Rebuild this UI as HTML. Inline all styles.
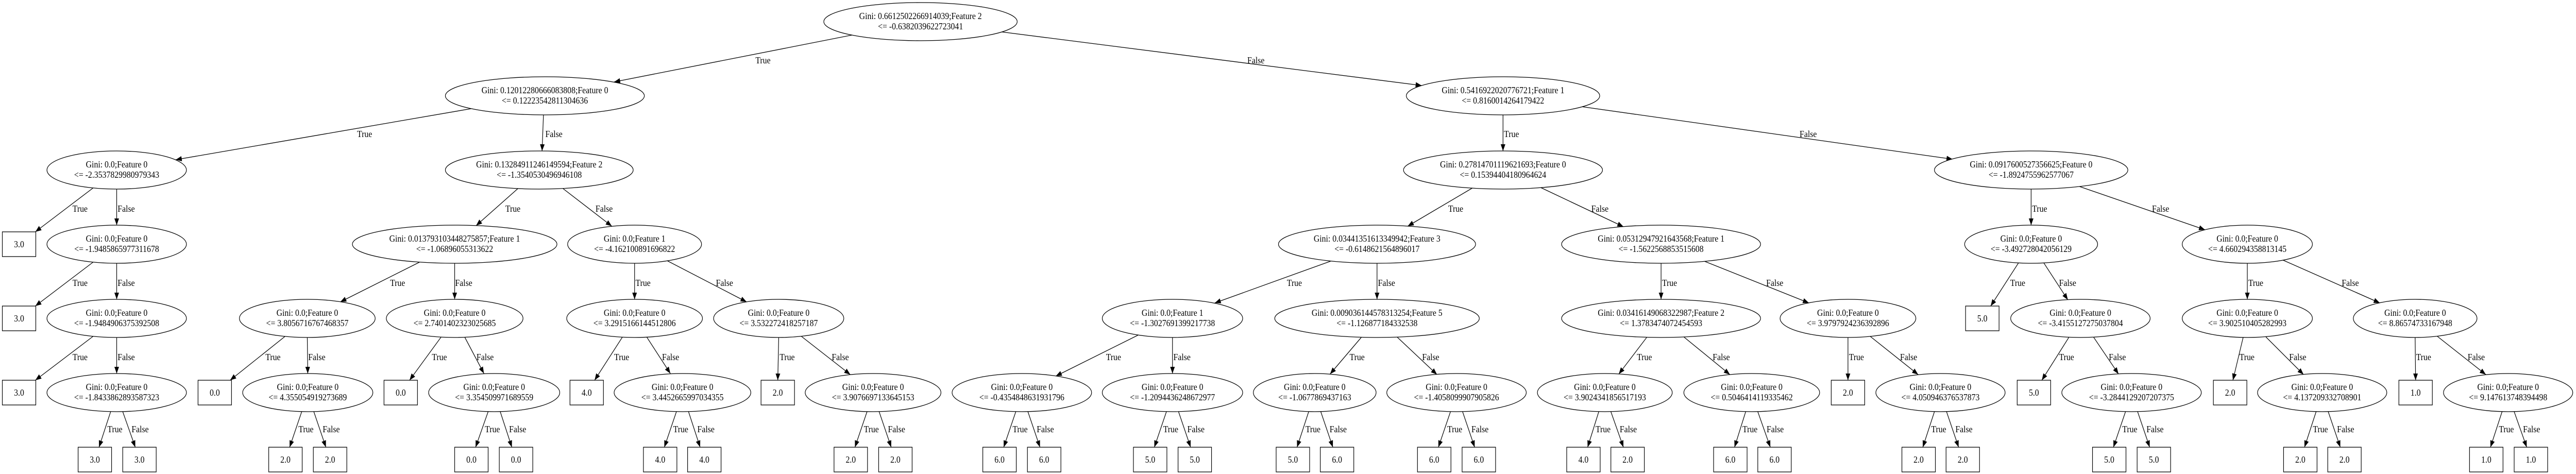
<!DOCTYPE html>
<html><head><meta charset="utf-8"><style>
html,body{margin:0;padding:0;background:#fff;width:5541px;height:920px;overflow:hidden;}
svg{display:block;position:absolute;left:0;top:0;width:100vw;height:100vh;}
text{font-family:"Liberation Serif","Times New Roman",serif;font-size:17.5px;fill:#000;}
.c{text-anchor:middle;}
</style></head><body>
<svg viewBox="0 0 5541 920" preserveAspectRatio="none" xmlns="http://www.w3.org/2000/svg">
<defs><marker id="a" viewBox="0 0 13 10" refX="13" refY="5" markerWidth="13" markerHeight="10" markerUnits="userSpaceOnUse" orient="auto"><path d="M0,0 L13,5 L0,10 z" fill="#000"/></marker></defs>
<rect width="5541" height="920" fill="#fff"/>
<g stroke="#000" stroke-width="1.3" fill="none" marker-end="url(#a)">
<line x1="1833" y1="68" x2="1321" y2="159"/>
<line x1="2155" y1="62" x2="3058" y2="166"/>
<line x1="1013" y1="211" x2="378" y2="310"/>
<line x1="1169" y1="223" x2="1166" y2="293"/>
<line x1="3233" y1="223" x2="3233" y2="293"/>
<line x1="3402" y1="207" x2="4200" y2="309"/>
<line x1="200" y1="365" x2="76" y2="450"/>
<line x1="251" y1="367" x2="251" y2="437"/>
<line x1="200" y1="509" x2="76" y2="594"/>
<line x1="251" y1="511" x2="251" y2="581"/>
<line x1="200" y1="653" x2="76" y2="738"/>
<line x1="251" y1="655" x2="251" y2="725"/>
<line x1="1114" y1="366" x2="1024" y2="438"/>
<line x1="1211" y1="366" x2="1316" y2="439"/>
<line x1="902" y1="509" x2="732" y2="586"/>
<line x1="978" y1="511" x2="978" y2="581"/>
<line x1="1365" y1="511" x2="1365" y2="581"/>
<line x1="1435" y1="506" x2="1606" y2="586"/>
<line x1="613" y1="653" x2="495" y2="738"/>
<line x1="661" y1="655" x2="662" y2="725"/>
<line x1="949" y1="654" x2="881" y2="738"/>
<line x1="1000" y1="655" x2="1041" y2="725"/>
<line x1="1339" y1="654" x2="1279" y2="738"/>
<line x1="1391" y1="654" x2="1442" y2="725"/>
<line x1="1675" y1="655" x2="1673" y2="738"/>
<line x1="1724" y1="653" x2="1829" y2="727"/>
<line x1="3167" y1="365" x2="3028" y2="439"/>
<line x1="3314" y1="364" x2="3492" y2="440"/>
<line x1="4369" y1="367" x2="4369" y2="437"/>
<line x1="4473" y1="362" x2="4743" y2="446"/>
<line x1="2862" y1="507" x2="2613" y2="588"/>
<line x1="2962" y1="511" x2="2962" y2="581"/>
<line x1="3573" y1="511" x2="3573" y2="581"/>
<line x1="3666" y1="507" x2="3891" y2="588"/>
<line x1="4342" y1="510" x2="4282" y2="594"/>
<line x1="4396" y1="510" x2="4448" y2="582"/>
<line x1="4834" y1="511" x2="4834" y2="581"/>
<line x1="4911" y1="505" x2="5119" y2="588"/>
<line x1="2449" y1="650" x2="2271" y2="730"/>
<line x1="2522" y1="655" x2="2522" y2="725"/>
<line x1="2928" y1="655" x2="2861" y2="726"/>
<line x1="3005" y1="654" x2="3091" y2="727"/>
<line x1="3542" y1="655" x2="3482" y2="726"/>
<line x1="3622" y1="654" x2="3721" y2="727"/>
<line x1="3975" y1="655" x2="3975" y2="738"/>
<line x1="4023" y1="653" x2="4126" y2="727"/>
<line x1="4450" y1="655" x2="4392" y2="738"/>
<line x1="4503" y1="654" x2="4557" y2="726"/>
<line x1="4825" y1="655" x2="4803" y2="738"/>
<line x1="4874" y1="654" x2="4955" y2="727"/>
<line x1="5195" y1="655" x2="5196" y2="738"/>
<line x1="5243" y1="653" x2="5347" y2="727"/>
<line x1="238" y1="799" x2="213" y2="868"/><line x1="264" y1="799" x2="291" y2="868"/>
<line x1="649" y1="799" x2="623" y2="868"/><line x1="675" y1="799" x2="701" y2="868"/>
<line x1="1050" y1="799" x2="1023" y2="868"/><line x1="1076" y1="799" x2="1101" y2="868"/>
<line x1="1455" y1="799" x2="1429" y2="868"/><line x1="1481" y1="799" x2="1506" y2="868"/>
<line x1="1865" y1="799" x2="1839" y2="868"/><line x1="1891" y1="799" x2="1917" y2="868"/>
<line x1="2185" y1="799" x2="2159" y2="868"/><line x1="2211" y1="799" x2="2237" y2="868"/>
<line x1="2509" y1="799" x2="2483" y2="868"/><line x1="2535" y1="799" x2="2561" y2="868"/>
<line x1="2815" y1="799" x2="2790" y2="868"/><line x1="2841" y1="799" x2="2867" y2="868"/>
<line x1="3120" y1="799" x2="3094" y2="868"/><line x1="3146" y1="799" x2="3172" y2="868"/>
<line x1="3439" y1="799" x2="3415" y2="868"/><line x1="3465" y1="799" x2="3492" y2="868"/>
<line x1="3755" y1="799" x2="3731" y2="868"/><line x1="3781" y1="799" x2="3808" y2="868"/>
<line x1="4161" y1="799" x2="4136" y2="868"/><line x1="4187" y1="799" x2="4213" y2="868"/>
<line x1="4572" y1="799" x2="4546" y2="868"/><line x1="4598" y1="799" x2="4624" y2="868"/>
<line x1="4982" y1="799" x2="4957" y2="868"/><line x1="5008" y1="799" x2="5034" y2="868"/>
<line x1="5382" y1="799" x2="5357" y2="868"/><line x1="5408" y1="799" x2="5435" y2="868"/>
</g>
<g>
<text x="1625" y="123">True</text><text x="2683" y="123">False</text>
<text x="768" y="266">True</text><text x="1173" y="266">False</text>
<text x="3235" y="266">True</text><text x="3871" y="266">False</text>
<text x="156" y="411">True</text><text x="253" y="411">False</text>
<text x="1087" y="411">True</text><text x="1281" y="411">False</text>
<text x="3115" y="411">True</text><text x="3423" y="411">False</text>
<text x="4371" y="411">True</text><text x="4629" y="411">False</text>
<text x="156" y="555">True</text><text x="253" y="555">False</text>
<text x="839" y="555">True</text><text x="979" y="555">False</text>
<text x="1367" y="555">True</text><text x="1540" y="555">False</text>
<text x="2768" y="555">True</text><text x="2964" y="555">False</text>
<text x="3575" y="555">True</text><text x="3799" y="555">False</text>
<text x="4324" y="555">True</text><text x="4429" y="555">False</text>
<text x="4836" y="555">True</text><text x="5037" y="555">False</text>
<text x="156" y="699">True</text><text x="253" y="699">False</text>
<text x="571" y="699">True</text><text x="663" y="699">False</text>
<text x="929" y="699">True</text><text x="1025" y="699">False</text>
<text x="1321" y="699">True</text><text x="1424" y="699">False</text>
<text x="1677" y="699">True</text><text x="1789" y="699">False</text>
<text x="2379" y="699">True</text><text x="2524" y="699">False</text>
<text x="2903" y="699">True</text><text x="3059" y="699">False</text>
<text x="3521" y="699">True</text><text x="3684" y="699">False</text>
<text x="3977" y="699">True</text><text x="4087" y="699">False</text>
<text x="4429" y="699">True</text><text x="4536" y="699">False</text>
<text x="4817" y="699">True</text><text x="4924" y="699">False</text>
<text x="5197" y="699">True</text><text x="5308" y="699">False</text>
<text x="231" y="839">True</text><text x="283" y="839">False</text>
<text x="642" y="839">True</text><text x="694" y="839">False</text>
<text x="1043" y="839">True</text><text x="1095" y="839">False</text>
<text x="1448" y="839">True</text><text x="1500" y="839">False</text>
<text x="1858" y="839">True</text><text x="1910" y="839">False</text>
<text x="2178" y="839">True</text><text x="2230" y="839">False</text>
<text x="2502" y="839">True</text><text x="2554" y="839">False</text>
<text x="2808" y="839">True</text><text x="2860" y="839">False</text>
<text x="3113" y="839">True</text><text x="3165" y="839">False</text>
<text x="3432" y="839">True</text><text x="3484" y="839">False</text>
<text x="3748" y="839">True</text><text x="3800" y="839">False</text>
<text x="4154" y="839">True</text><text x="4206" y="839">False</text>
<text x="4565" y="839">True</text><text x="4617" y="839">False</text>
<text x="4975" y="839">True</text><text x="5027" y="839">False</text>
<text x="5375" y="839">True</text><text x="5427" y="839">False</text>
</g>
<g stroke="#000" stroke-width="1.3" fill="#fff">
<ellipse cx="1980" cy="42" rx="208" ry="37"/>
<ellipse cx="1172" cy="186" rx="214" ry="37"/>
<ellipse cx="3233" cy="186" rx="208" ry="37"/>
<ellipse cx="251" cy="330" rx="150" ry="37"/>
<ellipse cx="1160" cy="330" rx="202" ry="37"/>
<ellipse cx="3233" cy="330" rx="214" ry="37"/>
<ellipse cx="4369" cy="330" rx="208" ry="37"/>
<ellipse cx="251" cy="474" rx="150" ry="37"/>
<ellipse cx="978" cy="474" rx="220" ry="37"/>
<ellipse cx="1365" cy="474" rx="144" ry="37"/>
<ellipse cx="2962" cy="474" rx="212" ry="37"/>
<ellipse cx="3573" cy="474" rx="214" ry="37"/>
<ellipse cx="4369" cy="474" rx="143" ry="37"/>
<ellipse cx="4834" cy="474" rx="140" ry="37"/>
<ellipse cx="251" cy="618" rx="150" ry="37"/>
<ellipse cx="661" cy="618" rx="146" ry="37"/>
<ellipse cx="978" cy="618" rx="147" ry="37"/>
<ellipse cx="1365" cy="618" rx="146" ry="37"/>
<ellipse cx="1675" cy="618" rx="140" ry="37"/>
<ellipse cx="2522" cy="618" rx="151" ry="37"/>
<ellipse cx="2962" cy="618" rx="220" ry="37"/>
<ellipse cx="3573" cy="618" rx="214" ry="37"/>
<ellipse cx="3975" cy="618" rx="146" ry="37"/>
<ellipse cx="4475" cy="618" rx="150" ry="37"/>
<ellipse cx="4834" cy="618" rx="140" ry="37"/>
<ellipse cx="5195" cy="618" rx="133" ry="37"/>
<ellipse cx="251" cy="762" rx="150" ry="37"/>
<ellipse cx="662" cy="762" rx="140" ry="37"/>
<ellipse cx="1063" cy="762" rx="141" ry="37"/>
<ellipse cx="1468" cy="762" rx="147" ry="37"/>
<ellipse cx="1878" cy="762" rx="146" ry="37"/>
<ellipse cx="2198" cy="762" rx="150" ry="37"/>
<ellipse cx="2522" cy="762" rx="151" ry="37"/>
<ellipse cx="2828" cy="762" rx="132" ry="37"/>
<ellipse cx="3133" cy="762" rx="150" ry="37"/>
<ellipse cx="3452" cy="762" rx="145" ry="37"/>
<ellipse cx="3768" cy="762" rx="146" ry="37"/>
<ellipse cx="4174" cy="762" rx="139" ry="37"/>
<ellipse cx="4585" cy="762" rx="150" ry="37"/>
<ellipse cx="4995" cy="762" rx="139" ry="37"/>
<ellipse cx="5395" cy="762" rx="139" ry="37"/>
</g>
<g stroke="#000" stroke-width="1.3" fill="#fff">
<rect x="5" y="450" width="72" height="48"/>
<rect x="5" y="594" width="72" height="48"/>
<rect x="4228" y="594" width="72" height="48"/>
<rect x="5" y="738" width="72" height="48"/>
<rect x="426" y="738" width="72" height="48"/>
<rect x="826" y="738" width="72" height="48"/>
<rect x="1226" y="738" width="72" height="48"/>
<rect x="1637" y="738" width="72" height="48"/>
<rect x="3939" y="738" width="72" height="48"/>
<rect x="4339" y="738" width="72" height="48"/>
<rect x="4761" y="738" width="72" height="48"/>
<rect x="5160" y="738" width="72" height="48"/>
<rect x="168" y="868" width="72" height="48"/><rect x="264" y="868" width="72" height="48"/>
<rect x="578" y="868" width="72" height="48"/><rect x="674" y="868" width="72" height="48"/>
<rect x="978" y="868" width="72" height="48"/><rect x="1074" y="868" width="72" height="48"/>
<rect x="1384" y="868" width="72" height="48"/><rect x="1479" y="868" width="72" height="48"/>
<rect x="1794" y="868" width="72" height="48"/><rect x="1890" y="868" width="72" height="48"/>
<rect x="2114" y="868" width="72" height="48"/><rect x="2210" y="868" width="72" height="48"/>
<rect x="2438" y="868" width="72" height="48"/><rect x="2534" y="868" width="72" height="48"/>
<rect x="2745" y="868" width="72" height="48"/><rect x="2840" y="868" width="72" height="48"/>
<rect x="3049" y="868" width="72" height="48"/><rect x="3145" y="868" width="72" height="48"/>
<rect x="3370" y="868" width="72" height="48"/><rect x="3465" y="868" width="72" height="48"/>
<rect x="3686" y="868" width="72" height="48"/><rect x="3781" y="868" width="72" height="48"/>
<rect x="4091" y="868" width="72" height="48"/><rect x="4186" y="868" width="72" height="48"/>
<rect x="4501" y="868" width="72" height="48"/><rect x="4597" y="868" width="72" height="48"/>
<rect x="4912" y="868" width="72" height="48"/><rect x="5007" y="868" width="72" height="48"/>
<rect x="5312" y="868" width="72" height="48"/><rect x="5408" y="868" width="72" height="48"/>
</g>
<g>
<text class="c" x="41" y="480">3.0</text>
<text class="c" x="41" y="624">3.0</text>
<text class="c" x="4264" y="624">5.0</text>
<text class="c" x="41" y="768">3.0</text>
<text class="c" x="462" y="768">0.0</text>
<text class="c" x="862" y="768">0.0</text>
<text class="c" x="1262" y="768">4.0</text>
<text class="c" x="1673" y="768">2.0</text>
<text class="c" x="3975" y="768">2.0</text>
<text class="c" x="4375" y="768">5.0</text>
<text class="c" x="4797" y="768">2.0</text>
<text class="c" x="5196" y="768">1.0</text>
<text class="c" x="204" y="898">3.0</text><text class="c" x="300" y="898">3.0</text>
<text class="c" x="614" y="898">2.0</text><text class="c" x="710" y="898">2.0</text>
<text class="c" x="1014" y="898">0.0</text><text class="c" x="1110" y="898">0.0</text>
<text class="c" x="1420" y="898">4.0</text><text class="c" x="1515" y="898">4.0</text>
<text class="c" x="1830" y="898">2.0</text><text class="c" x="1926" y="898">2.0</text>
<text class="c" x="2150" y="898">6.0</text><text class="c" x="2246" y="898">6.0</text>
<text class="c" x="2474" y="898">5.0</text><text class="c" x="2570" y="898">5.0</text>
<text class="c" x="2781" y="898">5.0</text><text class="c" x="2876" y="898">6.0</text>
<text class="c" x="3085" y="898">6.0</text><text class="c" x="3181" y="898">6.0</text>
<text class="c" x="3406" y="898">4.0</text><text class="c" x="3501" y="898">2.0</text>
<text class="c" x="3722" y="898">6.0</text><text class="c" x="3817" y="898">6.0</text>
<text class="c" x="4127" y="898">2.0</text><text class="c" x="4222" y="898">2.0</text>
<text class="c" x="4537" y="898">5.0</text><text class="c" x="4633" y="898">5.0</text>
<text class="c" x="4948" y="898">2.0</text><text class="c" x="5043" y="898">2.0</text>
<text class="c" x="5348" y="898">1.0</text><text class="c" x="5444" y="898">1.0</text>
</g>
<g>
<text class="c" x="1980" y="37">Gini: 0.6612502266914039;Feature 2</text><text class="c" x="1980" y="57">&lt;= -0.6382039622723041</text>
<text class="c" x="1172" y="181">Gini: 0.12012280666083808;Feature 0</text><text class="c" x="1172" y="201">&lt;= 0.12223542811304636</text>
<text class="c" x="3233" y="181">Gini: 0.5416922020776721;Feature 1</text><text class="c" x="3233" y="201">&lt;= 0.8160014264179422</text>
<text class="c" x="251" y="325">Gini: 0.0;Feature 0</text><text class="c" x="251" y="345">&lt;= -2.3537829980979343</text>
<text class="c" x="1160" y="325">Gini: 0.13284911246149594;Feature 2</text><text class="c" x="1160" y="345">&lt;= -1.3540530496946108</text>
<text class="c" x="3233" y="325">Gini: 0.27814701119621693;Feature 0</text><text class="c" x="3233" y="345">&lt;= 0.15394404180964624</text>
<text class="c" x="4369" y="325">Gini: 0.0917600527356625;Feature 0</text><text class="c" x="4369" y="345">&lt;= -1.8924755962577067</text>
<text class="c" x="251" y="469">Gini: 0.0;Feature 0</text><text class="c" x="251" y="489">&lt;= -1.9485865977311678</text>
<text class="c" x="978" y="469">Gini: 0.013793103448275857;Feature 1</text><text class="c" x="978" y="489">&lt;= -1.06896055313622</text>
<text class="c" x="1365" y="469">Gini: 0.0;Feature 1</text><text class="c" x="1365" y="489">&lt;= -4.162100891696822</text>
<text class="c" x="2962" y="469">Gini: 0.03441351613349942;Feature 3</text><text class="c" x="2962" y="489">&lt;= -0.6148621564896017</text>
<text class="c" x="3573" y="469">Gini: 0.05312947921643568;Feature 1</text><text class="c" x="3573" y="489">&lt;= -1.5622568853515608</text>
<text class="c" x="4369" y="469">Gini: 0.0;Feature 0</text><text class="c" x="4369" y="489">&lt;= -3.492728042056129</text>
<text class="c" x="4834" y="469">Gini: 0.0;Feature 0</text><text class="c" x="4834" y="489">&lt;= 4.660294358813145</text>
<text class="c" x="251" y="613">Gini: 0.0;Feature 0</text><text class="c" x="251" y="633">&lt;= -1.9484906375392508</text>
<text class="c" x="661" y="613">Gini: 0.0;Feature 0</text><text class="c" x="661" y="633">&lt;= 3.8056716767468357</text>
<text class="c" x="978" y="613">Gini: 0.0;Feature 0</text><text class="c" x="978" y="633">&lt;= 2.7401402323025685</text>
<text class="c" x="1365" y="613">Gini: 0.0;Feature 0</text><text class="c" x="1365" y="633">&lt;= 3.2915166144512806</text>
<text class="c" x="1675" y="613">Gini: 0.0;Feature 0</text><text class="c" x="1675" y="633">&lt;= 3.532272418257187</text>
<text class="c" x="2522" y="613">Gini: 0.0;Feature 1</text><text class="c" x="2522" y="633">&lt;= -1.3027691399217738</text>
<text class="c" x="2962" y="613">Gini: 0.009036144578313254;Feature 5</text><text class="c" x="2962" y="633">&lt;= -1.126877184332538</text>
<text class="c" x="3573" y="613">Gini: 0.03416149068322987;Feature 2</text><text class="c" x="3573" y="633">&lt;= 1.3783474072454593</text>
<text class="c" x="3975" y="613">Gini: 0.0;Feature 0</text><text class="c" x="3975" y="633">&lt;= 3.9797924236392896</text>
<text class="c" x="4475" y="613">Gini: 0.0;Feature 0</text><text class="c" x="4475" y="633">&lt;= -3.4155127275037804</text>
<text class="c" x="4834" y="613">Gini: 0.0;Feature 0</text><text class="c" x="4834" y="633">&lt;= 3.902510405282993</text>
<text class="c" x="5195" y="613">Gini: 0.0;Feature 0</text><text class="c" x="5195" y="633">&lt;= 8.86574733167948</text>
<text class="c" x="251" y="757">Gini: 0.0;Feature 0</text><text class="c" x="251" y="777">&lt;= -1.8433862893587323</text>
<text class="c" x="662" y="757">Gini: 0.0;Feature 0</text><text class="c" x="662" y="777">&lt;= 4.355054919273689</text>
<text class="c" x="1063" y="757">Gini: 0.0;Feature 0</text><text class="c" x="1063" y="777">&lt;= 3.354509971689559</text>
<text class="c" x="1468" y="757">Gini: 0.0;Feature 0</text><text class="c" x="1468" y="777">&lt;= 3.4452665997034355</text>
<text class="c" x="1878" y="757">Gini: 0.0;Feature 0</text><text class="c" x="1878" y="777">&lt;= 3.9076697133645153</text>
<text class="c" x="2198" y="757">Gini: 0.0;Feature 0</text><text class="c" x="2198" y="777">&lt;= -0.4354848631931796</text>
<text class="c" x="2522" y="757">Gini: 0.0;Feature 0</text><text class="c" x="2522" y="777">&lt;= -1.2094436248672977</text>
<text class="c" x="2828" y="757">Gini: 0.0;Feature 0</text><text class="c" x="2828" y="777">&lt;= -1.0677869437163</text>
<text class="c" x="3133" y="757">Gini: 0.0;Feature 0</text><text class="c" x="3133" y="777">&lt;= -1.4058099907905826</text>
<text class="c" x="3452" y="757">Gini: 0.0;Feature 0</text><text class="c" x="3452" y="777">&lt;= 3.9024341856517193</text>
<text class="c" x="3768" y="757">Gini: 0.0;Feature 0</text><text class="c" x="3768" y="777">&lt;= 0.5046414119335462</text>
<text class="c" x="4174" y="757">Gini: 0.0;Feature 0</text><text class="c" x="4174" y="777">&lt;= 4.050946376537873</text>
<text class="c" x="4585" y="757">Gini: 0.0;Feature 0</text><text class="c" x="4585" y="777">&lt;= -3.2844129207207375</text>
<text class="c" x="4995" y="757">Gini: 0.0;Feature 0</text><text class="c" x="4995" y="777">&lt;= 4.137209332708901</text>
<text class="c" x="5395" y="757">Gini: 0.0;Feature 0</text><text class="c" x="5395" y="777">&lt;= 9.147613748394498</text>
</g>
</svg>
</body></html>
